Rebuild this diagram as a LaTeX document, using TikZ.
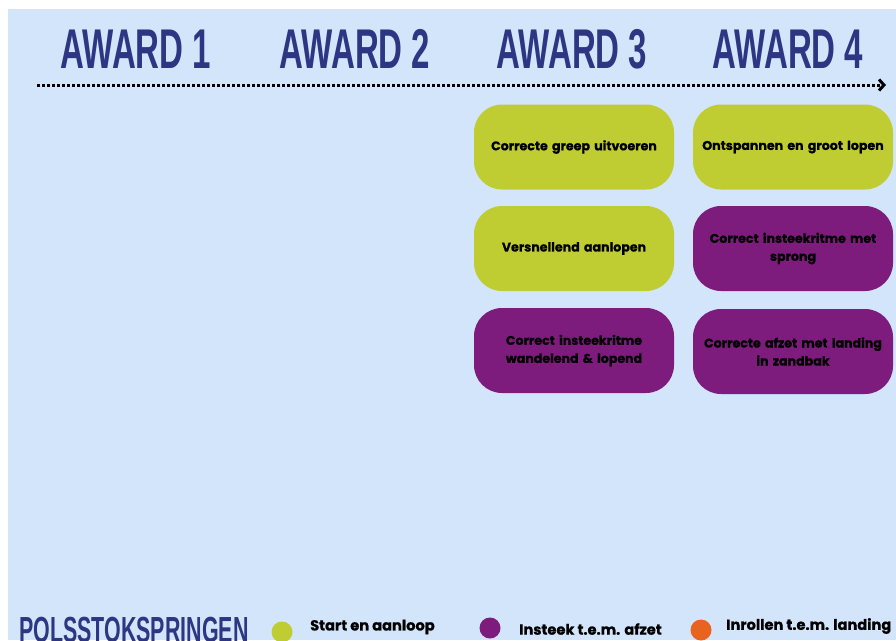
\documentclass[tikz,border=0pt]{standalone}
\usepackage{fontspec}
\setmainfont{Poppins}[BoldFeatures={FakeBold=0.8}]
\newfontfamily\titlefont[FakeStretch=0.59]{Liberation Sans}
\usetikzlibrary{arrows.meta}
\definecolor{bgblue}{HTML}{D2E5FB}
\definecolor{navy}{HTML}{2E3582}
\definecolor{limegreen}{HTML}{C0CD32}
\definecolor{plum}{HTML}{7E1C7E}
\definecolor{tangerine}{HTML}{E8641E}
\tikzset{
  award/.style={text=navy, font=\titlefont\bfseries\fontsize{56}{56}\selectfont, inner sep=0pt},
  card/.style={rounded corners=28pt, minimum width=200pt, minimum height=85pt, inner sep=2pt,
    align=center, text=black, font=\bfseries\fontsize{12.6}{18}\selectfont, text width=196pt},
  greencard/.style={card, fill=limegreen},
  purplecard/.style={card, fill=plum},
  dot/.style={circle, minimum size=21pt, inner sep=0pt},
  legendtext/.style={anchor=west, inner sep=0pt, font=\bfseries\fontsize{14.6}{14.6}\selectfont},
}
\begin{document}
\begin{tikzpicture}[x=1pt,y=-1pt]
\useasboundingbox (0,0) rectangle (896,640);
\fill[white] (0,0) rectangle (896,640);
\fill[bgblue] (8,9) rectangle (896,640);

\node[award] (a1) at (136,49) {AWARD 1};
\node[award] (a2) at (355,49) {AWARD 2};
\node[award] (a3) at (572,49) {AWARD 3};
\node[award] (a4) at (788,49) {AWARD 4};

\coordinate (ls) at (37,85);
\coordinate (le) at (886,85);
\draw[line width=3pt, dash pattern=on 3pt off 2pt,
  -{Straight Barb[length=5pt,width=11pt,line width=3pt]}] (ls) -- (le);

\node[greencard] (c31) at (574,147) {Correcte greep uitvoeren};
\node[greencard] (c32) at (574,248.5) {Versnellend aanlopen};
\node[purplecard] (c33) at (574,350.5) {Correct insteekritme\\wandelend \& lopend};
\node[greencard] (c41) at (793,147) {Ontspannen en groot lopen};
\node[purplecard] (c42) at (793,248.5) {Correct insteekritme met\\sprong};
\node[purplecard] (c43) at (793,351.5) {Correcte afzet met landing\\in zandbak};

\node[text=navy, font=\titlefont\bfseries\fontsize{36.3}{36.3}\selectfont, anchor=west, inner sep=0pt] (pol) at (19,630) {POLSSTOKSPRINGEN};

\node[dot, fill=limegreen] (d1) at (282,632) {};
\node[legendtext] (t1) at (310,627) {Start en aanloop};
\node[dot, fill=plum] (d2) at (490,628) {};
\node[legendtext] (t2) at (519,629) {Insteek t.e.m. afzet};
\node[dot, fill=tangerine] (d3) at (701,630) {};
\node[legendtext] (t3) at (726,626) {Inrollen t.e.m. landing};
\end{tikzpicture}
\end{document}
